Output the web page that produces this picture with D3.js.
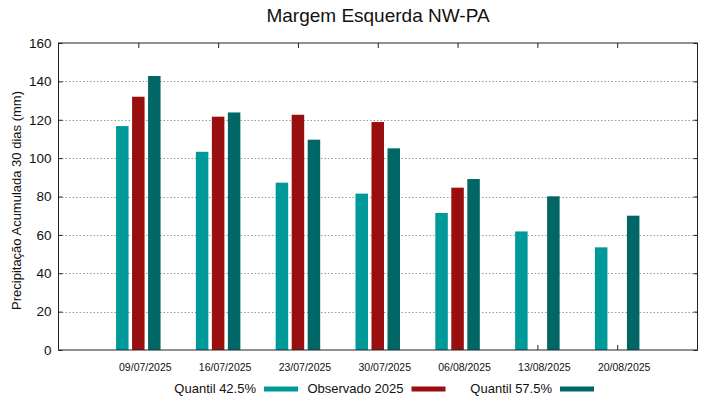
<!DOCTYPE html>
<html>
<head>
<meta charset="utf-8">
<script src="https://cdn.jsdelivr.net/npm/d3@7"></script>
<style>
    body { margin: 0; background: #fff; }
    svg { font-family: "Liberation Sans", Arial, sans-serif; }
</style>
</head>
<body>
<script>
(function(){

    //chart data
    var dates = ["09/07/2025", "16/07/2025", "23/07/2025", "30/07/2025", "06/08/2025", "13/08/2025", "20/08/2025"];
    var quantil425 = [116.7, 103.3, 87.2, 81.5, 71.4, 61.8, 53.5];
    var observado2025 = [132.0, 121.6, 122.6, 118.8, 84.6, null, null];
    var quantil575 = [142.8, 123.8, 109.6, 105.1, 89.1, 80.1, 70.0];
    var seriesNames = ["Quantil 42.5%", "Observado 2025", "Quantil 57.5%"];
    var yTicks = [0, 20, 40, 60, 80, 100, 120, 140, 160];

    var colors = ["#009999", "#990f0f", "#006666"];

    window.onload = setChart;

    function setChart() {
        var width = 719,
            height = 399,
            left = 58.5,
            right = 697.5,
            top = 43,
            bottom = 350;

        var svg = d3.select("body")
            .append("svg")
            .attr("width", width)
            .attr("height", height);

        //scales
        var xScale = d3.scalePoint()
            .domain(dates)
            .range([left, right - 0.5])
            .padding(1);

        var yScale = d3.scaleLinear()
            .domain([0, 160])
            .range([bottom, top]);

        //dotted grid lines
        svg.append("g")
            .selectAll("line")
            .data(yTicks.filter(function(d) { return d > 0 && d < 160; }))
            .enter()
            .append("line")
            .attr("x1", left)
            .attr("x2", right)
            .attr("y1", function(d) { return Math.round(yScale(d)) + 0.5; })
            .attr("y2", function(d) { return Math.round(yScale(d)) + 0.5; })
            .style("stroke", "#999")
            .style("stroke-width", 1)
            .style("stroke-dasharray", "1.5,2");

        //mirror ticks on top/bottom (inward), drawn under bars
        var xTop = d3.axisBottom(xScale).tickSize(5).tickFormat("");
        svg.append("g")
            .attr("transform", "translate(0," + top + ")")
            .call(xTop)
            .call(function(g) { g.select(".domain").remove(); })
            .selectAll("line").style("stroke", "#222");

        var xBottom = d3.axisTop(xScale).tickSize(5).tickFormat("");
        svg.append("g")
            .attr("transform", "translate(0," + bottom + ")")
            .call(xBottom)
            .call(function(g) { g.select(".domain").remove(); })
            .selectAll("line").style("stroke", "#222");

        //bars
        var series = [quantil425, observado2025, quantil575];
        var barWidth = 12.5,
            barStep = 16;

        series.forEach(function(values, s) {
            svg.append("g")
                .selectAll("rect")
                .data(values.map(function(v, i) { return { date: dates[i], value: v }; })
                    .filter(function(d) { return d.value != null; }))
                .enter()
                .append("rect")
                .attr("x", function(d) { return xScale(d.date) + (s - 1) * barStep - barWidth / 2; })
                .attr("y", function(d) { return yScale(d.value); })
                .attr("width", barWidth)
                .attr("height", function(d) { return bottom - yScale(d.value); })
                .style("fill", colors[s]);
        });

        //y axes left and right (inward ticks)
        var yLeft = d3.axisRight(yScale).tickValues(yTicks).tickSize(4).tickFormat("");
        svg.append("g")
            .attr("transform", "translate(" + left + ",0)")
            .call(yLeft)
            .call(function(g) { g.select(".domain").remove(); })
            .selectAll("line").style("stroke", "#222");

        var yRight = d3.axisLeft(yScale).tickValues(yTicks).tickSize(4).tickFormat("");
        svg.append("g")
            .attr("transform", "translate(" + right + ",0)")
            .call(yRight)
            .call(function(g) { g.select(".domain").remove(); })
            .selectAll("line").style("stroke", "#222");

        //frame
        svg.append("rect")
            .attr("x", left)
            .attr("y", top)
            .attr("width", right - left)
            .attr("height", bottom - top)
            .style("fill", "none")
            .style("stroke", "#222")
            .style("stroke-width", 1);

        //y tick labels
        svg.append("g")
            .selectAll("text")
            .data(yTicks)
            .enter()
            .append("text")
            .attr("x", 51.5)
            .attr("y", function(d) { return yScale(d); })
            .attr("dy", "0.36em")
            .attr("text-anchor", "end")
            .style("font-size", "13.5px")
            .style("fill", "#111")
            .text(function(d) { return d; });

        //x tick labels
        svg.append("g")
            .selectAll("text")
            .data(dates)
            .enter()
            .append("text")
            .attr("x", function(d) { return xScale(d) + 7; })
            .attr("y", 371)
            .attr("text-anchor", "middle")
            .style("font-size", "10.5px")
            .style("fill", "#111")
            .text(function(d) { return d; });

        //title
        svg.append("text")
            .attr("x", (left + right) / 2)
            .attr("y", 22)
            .attr("text-anchor", "middle")
            .style("font-size", "19px")
            .style("fill", "#111")
            .text("Margem Esquerda NW-PA");

        //y axis title
        svg.append("text")
            .attr("transform", "translate(20.5," + ((top + bottom) / 2 + 4) + ") rotate(-90)")
            .attr("text-anchor", "middle")
            .style("font-size", "13px")
            .style("fill", "#111")
            .text("Precipitação Acumulada 30 dias (mm)");

        //legend
        var legendTextEnd = [256, 403.5, 552];
        var legend = svg.append("g");
        seriesNames.forEach(function(name, s) {
            legend.append("text")
                .attr("x", legendTextEnd[s])
                .attr("y", 393)
                .attr("text-anchor", "end")
                .style("font-size", "13px")
                .style("fill", "#111")
                .text(name);
            legend.append("rect")
                .attr("x", legendTextEnd[s] + 8)
                .attr("y", 386.5)
                .attr("width", 34)
                .attr("height", 5)
                .style("fill", colors[s]);
        });
    };
})();
</script>
</body>
</html>
